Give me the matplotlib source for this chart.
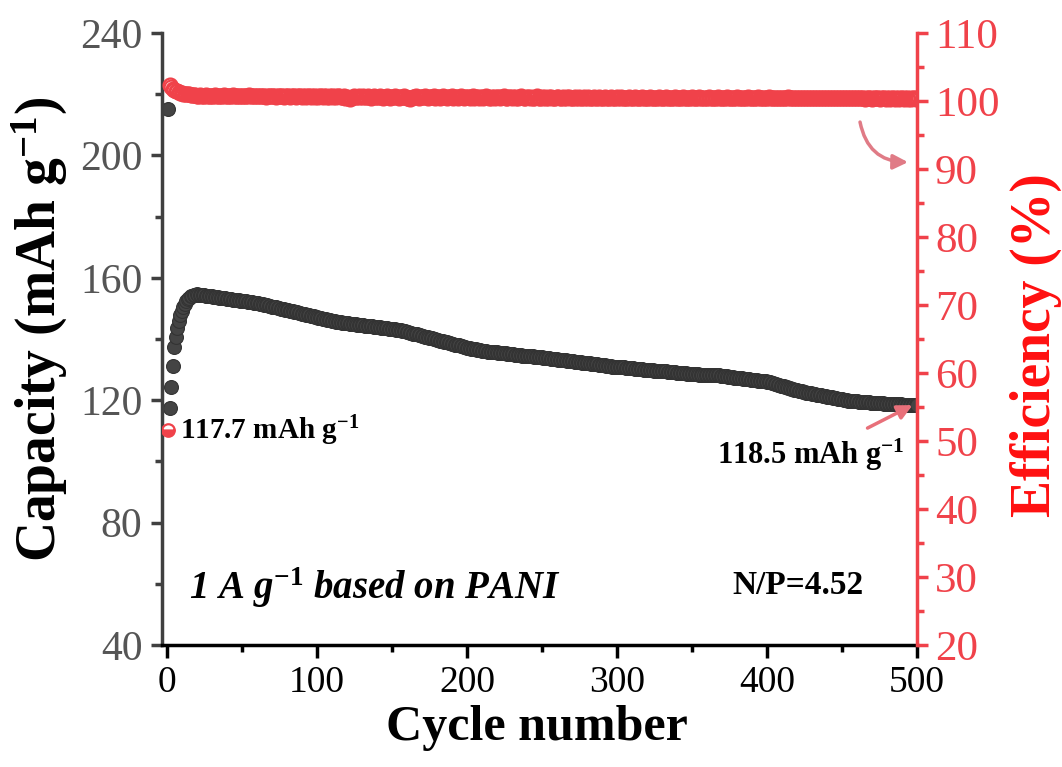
import numpy as np
import matplotlib.pyplot as plt
from matplotlib.ticker import MultipleLocator

plt.rcParams['font.family'] = 'Liberation Serif'
plt.rcParams['mathtext.fontset'] = 'custom'
plt.rcParams['mathtext.rm'] = 'Liberation Serif:bold'
plt.rcParams['mathtext.bf'] = 'Liberation Serif:bold'
plt.rcParams['mathtext.it'] = 'Liberation Serif:italic:bold'

# discharge capacity (mAh g-1), one value per cycle
capacity = [
    215.2, 117.5, 124.3, 131.2, 137.4, 140.7, 143.6, 146.0, 147.8, 149.3,
    150.5, 151.5, 152.3, 153.0, 153.5, 153.9, 154.2, 154.4, 154.5, 154.6,
    154.5, 154.5, 154.4, 154.3, 154.3, 154.2, 154.1, 154.0, 154.0, 153.9,
    153.8, 153.8, 153.7, 153.6, 153.5, 153.5, 153.4, 153.3, 153.3, 153.2,
    153.1, 153.0, 153.0, 152.9, 152.8, 152.8, 152.7, 152.6, 152.5, 152.5,
    152.4, 152.3, 152.3, 152.2, 152.1, 152.0, 152.0, 151.9, 151.8, 151.8,
    151.7, 151.6, 151.4, 151.3, 151.2, 151.1, 151.0, 150.9, 150.8, 150.6,
    150.5, 150.4, 150.3, 150.2, 150.1, 149.9, 149.8, 149.7, 149.6, 149.5,
    149.4, 149.2, 149.1, 149.0, 148.9, 148.8, 148.7, 148.5, 148.4, 148.3,
    148.2, 148.1, 148.0, 147.8, 147.7, 147.6, 147.5, 147.4, 147.3, 147.2,
    147.0, 146.9, 146.8, 146.7, 146.6, 146.5, 146.3, 146.2, 146.1, 146.0,
    145.9, 145.8, 145.6, 145.5, 145.5, 145.4, 145.3, 145.3, 145.2, 145.2,
    145.1, 145.0, 145.0, 144.9, 144.9, 144.8, 144.7, 144.7, 144.6, 144.5,
    144.5, 144.4, 144.4, 144.3, 144.2, 144.2, 144.1, 144.0, 144.0, 143.9,
    143.9, 143.8, 143.7, 143.7, 143.6, 143.5, 143.5, 143.4, 143.4, 143.3,
    143.2, 143.2, 143.1, 143.1, 143.0, 142.9, 142.7, 142.6, 142.5, 142.4,
    142.2, 142.1, 142.0, 141.8, 141.7, 141.6, 141.5, 141.3, 141.2, 141.1,
    140.9, 140.8, 140.7, 140.6, 140.4, 140.3, 140.2, 140.0, 139.9, 139.8,
    139.7, 139.5, 139.4, 139.3, 139.1, 139.0, 138.9, 138.8, 138.6, 138.5,
    138.4, 138.2, 138.1, 138.0, 137.9, 137.7, 137.6, 137.5, 137.3, 137.2,
    137.1, 137.0, 136.9, 136.8, 136.7, 136.6, 136.4, 136.3, 136.3, 136.2,
    136.1, 136.0, 136.0, 135.9, 135.9, 135.8, 135.7, 135.7, 135.6, 135.6,
    135.5, 135.5, 135.4, 135.4, 135.3, 135.3, 135.2, 135.1, 135.1, 135.0,
    135.0, 134.9, 134.9, 134.8, 134.7, 134.7, 134.6, 134.6, 134.5, 134.5,
    134.4, 134.4, 134.3, 134.3, 134.2, 134.2, 134.1, 134.1, 134.0, 134.0,
    133.9, 133.9, 133.8, 133.7, 133.7, 133.6, 133.6, 133.5, 133.4, 133.4,
    133.3, 133.2, 133.2, 133.1, 133.1, 133.0, 132.9, 132.9, 132.8, 132.7,
    132.7, 132.6, 132.6, 132.5, 132.4, 132.4, 132.3, 132.2, 132.2, 132.1,
    132.0, 132.0, 131.9, 131.9, 131.8, 131.7, 131.7, 131.6, 131.5, 131.5,
    131.4, 131.4, 131.3, 131.2, 131.2, 131.1, 131.0, 131.0, 130.9, 130.9,
    130.8, 130.8, 130.7, 130.7, 130.7, 130.6, 130.6, 130.5, 130.5, 130.4,
    130.4, 130.3, 130.3, 130.2, 130.2, 130.1, 130.1, 130.0, 130.0, 129.9,
    129.9, 129.8, 129.8, 129.8, 129.7, 129.7, 129.6, 129.6, 129.5, 129.5,
    129.4, 129.4, 129.4, 129.3, 129.3, 129.2, 129.2, 129.1, 129.1, 129.0,
    129.0, 128.9, 128.9, 128.8, 128.8, 128.8, 128.7, 128.7, 128.6, 128.6,
    128.6, 128.5, 128.5, 128.5, 128.4, 128.4, 128.4, 128.3, 128.3, 128.3,
    128.3, 128.2, 128.2, 128.2, 128.2, 128.1, 128.1, 128.1, 128.0, 128.0,
    127.9, 127.8, 127.8, 127.7, 127.6, 127.6, 127.5, 127.4, 127.4, 127.3,
    127.2, 127.2, 127.1, 127.0, 127.0, 126.9, 126.8, 126.8, 126.7, 126.6,
    126.6, 126.5, 126.5, 126.4, 126.4, 126.3, 126.3, 126.2, 126.2, 126.1,
    126.0, 125.9, 125.7, 125.6, 125.4, 125.3, 125.1, 125.0, 124.8, 124.7,
    124.5, 124.4, 124.2, 124.1, 123.9, 123.8, 123.6, 123.5, 123.4, 123.2,
    123.1, 123.0, 122.9, 122.8, 122.6, 122.5, 122.4, 122.3, 122.2, 122.1,
    122.0, 121.9, 121.8, 121.8, 121.7, 121.6, 121.5, 121.4, 121.3, 121.2,
    121.1, 121.0, 120.9, 120.8, 120.7, 120.6, 120.5, 120.5, 120.4, 120.3,
    120.2, 120.1, 120.0, 119.9, 119.9, 119.8, 119.7, 119.7, 119.6, 119.6,
    119.5, 119.5, 119.4, 119.4, 119.4, 119.3, 119.3, 119.3, 119.2, 119.2,
    119.2, 119.1, 119.1, 119.1, 119.0, 119.0, 119.0, 118.9, 118.9, 118.9,
    118.9, 118.8, 118.8, 118.8, 118.8, 118.7, 118.7, 118.7, 118.7, 118.6,
    118.6, 118.6, 118.6, 118.6, 118.5, 118.5, 118.5, 118.5, 118.5, 118.5,
]

# coulombic efficiency (%), one value per cycle
efficiency = [
    51.6, 102.4, 102.0, 101.8, 101.6, 101.5, 101.4, 101.3, 101.2, 101.2,
    101.1, 101.1, 101.0, 101.0, 101.0, 100.9, 100.9, 100.9, 100.9, 100.8,
    100.8, 100.9, 100.7, 100.8, 100.8, 100.9, 100.7, 100.8, 100.8, 100.7,
    100.8, 100.9, 100.8, 100.7, 100.8, 100.8, 100.7, 100.9, 100.8, 100.7,
    100.7, 100.8, 100.8, 100.9, 100.7, 100.7, 100.8, 100.8, 100.7, 100.8,
    100.8, 100.7, 100.7, 100.8, 100.9, 100.7, 100.7, 100.8, 100.7, 100.8,
    100.7, 100.8, 100.7, 100.7, 100.8, 100.6, 100.7, 100.8, 100.7, 100.7,
    100.8, 100.7, 100.6, 100.7, 100.8, 100.7, 100.7, 100.6, 100.8, 100.7,
    100.7, 100.6, 100.7, 100.8, 100.7, 100.6, 100.7, 100.7, 100.8, 100.6,
    100.7, 100.7, 100.6, 100.8, 100.7, 100.6, 100.7, 100.7, 100.6, 100.7,
    100.6, 100.7, 100.7, 100.6, 100.8, 100.7, 100.6, 100.6, 100.7, 100.7,
    100.6, 100.7, 100.6, 100.7, 100.7, 100.6, 100.6, 100.7, 100.5, 100.6,
    100.4, 100.3, 100.4, 100.6, 100.7, 100.6, 100.6, 100.7, 100.6, 100.6,
    100.7, 100.6, 100.6, 100.7, 100.6, 100.5, 100.6, 100.7, 100.6, 100.6,
    100.6, 100.7, 100.6, 100.5, 100.6, 100.6, 100.7, 100.6, 100.5, 100.6,
    100.6, 100.7, 100.6, 100.6, 100.5, 100.6, 100.6, 100.7, 100.6, 100.5,
    100.4, 100.3, 100.4, 100.6, 100.6, 100.7, 100.6, 100.5, 100.6, 100.6,
    100.6, 100.7, 100.6, 100.5, 100.6, 100.6, 100.6, 100.7, 100.5, 100.6,
    100.6, 100.5, 100.6, 100.7, 100.6, 100.6, 100.5, 100.6, 100.6, 100.7,
    100.5, 100.6, 100.6, 100.5, 100.6, 100.7, 100.6, 100.5, 100.6, 100.6,
    100.6, 100.5, 100.6, 100.7, 100.5, 100.6, 100.6, 100.5, 100.6, 100.6,
    100.5, 100.6, 100.7, 100.6, 100.5, 100.5, 100.6, 100.6, 100.5, 100.6,
    100.6, 100.5, 100.6, 100.6, 100.7, 100.5, 100.5, 100.6, 100.6, 100.5,
    100.6, 100.6, 100.5, 100.5, 100.6, 100.7, 100.6, 100.5, 100.5, 100.6,
    100.6, 100.5, 100.6, 100.5, 100.5, 100.6, 100.7, 100.5, 100.5, 100.6,
    100.5, 100.6, 100.5, 100.5, 100.6, 100.6, 100.5, 100.4, 100.5, 100.6,
    100.6, 100.5, 100.5, 100.6, 100.5, 100.5, 100.6, 100.6, 100.5, 100.4,
    100.5, 100.6, 100.5, 100.5, 100.6, 100.5, 100.5, 100.6, 100.5, 100.5,
    100.6, 100.5, 100.4, 100.5, 100.6, 100.5, 100.5, 100.6, 100.5, 100.5,
    100.5, 100.6, 100.5, 100.4, 100.5, 100.6, 100.5, 100.5, 100.5, 100.6,
    100.5, 100.5, 100.6, 100.5, 100.4, 100.5, 100.5, 100.6, 100.5, 100.5,
    100.5, 100.6, 100.5, 100.4, 100.5, 100.5, 100.6, 100.5, 100.5, 100.4,
    100.5, 100.6, 100.5, 100.5, 100.4, 100.5, 100.5, 100.6, 100.5, 100.4,
    100.5, 100.5, 100.6, 100.5, 100.4, 100.5, 100.5, 100.5, 100.6, 100.5,
    100.4, 100.5, 100.5, 100.6, 100.5, 100.4, 100.5, 100.5, 100.5, 100.6,
    100.5, 100.4, 100.5, 100.5, 100.6, 100.5, 100.4, 100.5, 100.5, 100.5,
    100.6, 100.5, 100.4, 100.5, 100.5, 100.5, 100.6, 100.5, 100.4, 100.5,
    100.5, 100.5, 100.6, 100.5, 100.4, 100.5, 100.5, 100.4, 100.5, 100.6,
    100.5, 100.4, 100.5, 100.5, 100.4, 100.5, 100.6, 100.5, 100.4, 100.5,
    100.5, 100.4, 100.5, 100.6, 100.5, 100.4, 100.5, 100.5, 100.4, 100.5,
    100.6, 100.5, 100.4, 100.5, 100.5, 100.4, 100.5, 100.5, 100.4, 100.5,
    100.5, 100.4, 100.5, 100.6, 100.4, 100.4, 100.5, 100.5, 100.4, 100.5,
    100.4, 100.5, 100.5, 100.4, 100.5, 100.5, 100.4, 100.4, 100.5, 100.5,
    100.4, 100.5, 100.4, 100.4, 100.5, 100.5, 100.4, 100.5, 100.4, 100.4,
    100.5, 100.4, 100.4, 100.5, 100.4, 100.5, 100.4, 100.4, 100.5, 100.4,
    100.4, 100.5, 100.4, 100.4, 100.5, 100.4, 100.4, 100.5, 100.4, 100.4,
    100.4, 100.5, 100.4, 100.4, 100.3, 100.4, 100.5, 100.4, 100.4, 100.3,
    100.4, 100.4, 100.5, 100.4, 100.3, 100.4, 100.4, 100.4, 100.3, 100.4,
    100.4, 100.3, 100.4, 100.4, 100.3, 100.4, 100.4, 100.3, 100.4, 100.4,
    100.3, 100.4, 100.4, 100.3, 100.4, 100.3, 100.4, 100.4, 100.3, 100.4,
]

cycles = np.arange(1, len(capacity) + 1)

grey = '#404040'
red = '#f0424a'

fig = plt.figure(figsize=(10.62, 7.67), dpi=100)
ax1 = fig.add_axes([0.1525, 0.159, 0.711, 0.798])

ax1.plot(cycles, capacity, 'o', ms=10, mfc='#444444', mec='#333333', mew=0.8)
ax1.set_xlim(-3.3, 500)
ax1.set_ylim(40, 240)
ax1.xaxis.set_major_locator(MultipleLocator(100))
ax1.xaxis.set_minor_locator(MultipleLocator(50))
ax1.yaxis.set_major_locator(MultipleLocator(40))
ax1.yaxis.set_minor_locator(MultipleLocator(20))

ax1.spines['top'].set_visible(False)
ax1.spines['right'].set_visible(False)
ax1.spines['left'].set_color(grey)
ax1.spines['left'].set_linewidth(2.5)
ax1.spines['bottom'].set_color('black')
ax1.spines['bottom'].set_linewidth(2.5)

ax1.tick_params(axis='y', which='major', direction='out', length=8, width=2.5,
                color=grey, labelcolor='#555555', labelsize=30, pad=6)
ax1.tick_params(axis='y', which='minor', direction='out', length=5, width=2.5, color=grey)
ax1.tick_params(axis='x', which='major', direction='out', length=9, width=2.5,
                color='black', labelcolor='black', labelsize=27, pad=6)
ax1.tick_params(axis='x', which='minor', direction='out', length=5, width=2.5, color='black')

ax1.set_xlabel('Cycle number', fontsize=36, fontweight='bold')
ax1.xaxis.set_label_coords(0.497, -0.135)
ax1.xaxis.label.set_va('center')
ax1.set_ylabel('Capacity (mAh g$^{-1}$)', fontsize=40, fontweight='bold')
ax1.yaxis.set_label_coords(-0.162, 0.515)
ax1.yaxis.label.set_va('center')

ax2 = ax1.twinx()
ax2.plot(cycles[1:], efficiency[1:], 'o', ms=10, mfc='none', mec=red, mew=1.6)
ax2.plot(cycles[:1], efficiency[:1], 'o', ms=9, mfc=red, mec=red, mew=1.6,
         fillstyle='bottom', markerfacecoloralt='white')
ax2.set_ylim(20, 110)
ax2.yaxis.set_major_locator(MultipleLocator(10))
ax2.yaxis.set_minor_locator(MultipleLocator(5))
for side in ['top', 'left', 'bottom']:
    ax2.spines[side].set_visible(False)
ax2.spines['right'].set_color(red)
ax2.spines['right'].set_linewidth(2.5)
ax2.tick_params(axis='y', which='major', direction='out', length=8, width=2.5,
                color=red, labelcolor=red, labelsize=31, pad=5)
ax2.tick_params(axis='y', which='minor', direction='out', length=5, width=2.5, color=red)
ax2.set_ylabel('Efficiency (%)', fontsize=40, fontweight='bold', color='#ff1010',
               rotation=90)
ax2.yaxis.set_label_coords(1.158, 0.49)
ax2.yaxis.label.set_va('center')

# annotations
ax1.text(8.5, 110, '117.7 mAh g$^{-1}$', fontsize=21, fontweight='bold', va='center')
ax1.text(492, 102, '118.5 mAh g$^{-1}$', fontsize=22, fontweight='bold',
         va='center', ha='right')
ax1.text(15, 58.6, r'1 A g$^{\mathit{-1}}$ based on PANI', fontsize=28,
         fontweight='bold', style='italic', va='center')
ax1.text(377, 59.6, 'N/P=4.52', fontsize=24, fontweight='bold', va='center')

ax1.annotate('', xy=(497, 118.4), xytext=(467, 110.9),
             arrowprops=dict(arrowstyle='-|>', color='#e8707a', lw=2.5,
                             mutation_scale=22, shrinkA=0, shrinkB=0))
ax2.annotate('', xy=(494, 91.0), xytext=(462, 96.9),
             arrowprops=dict(arrowstyle='-|>', color='#e07b86', lw=2.5,
                             mutation_scale=22, shrinkA=0, shrinkB=0,
                             connectionstyle='arc3,rad=0.4'))

fig.savefig('out.png', dpi=100)
